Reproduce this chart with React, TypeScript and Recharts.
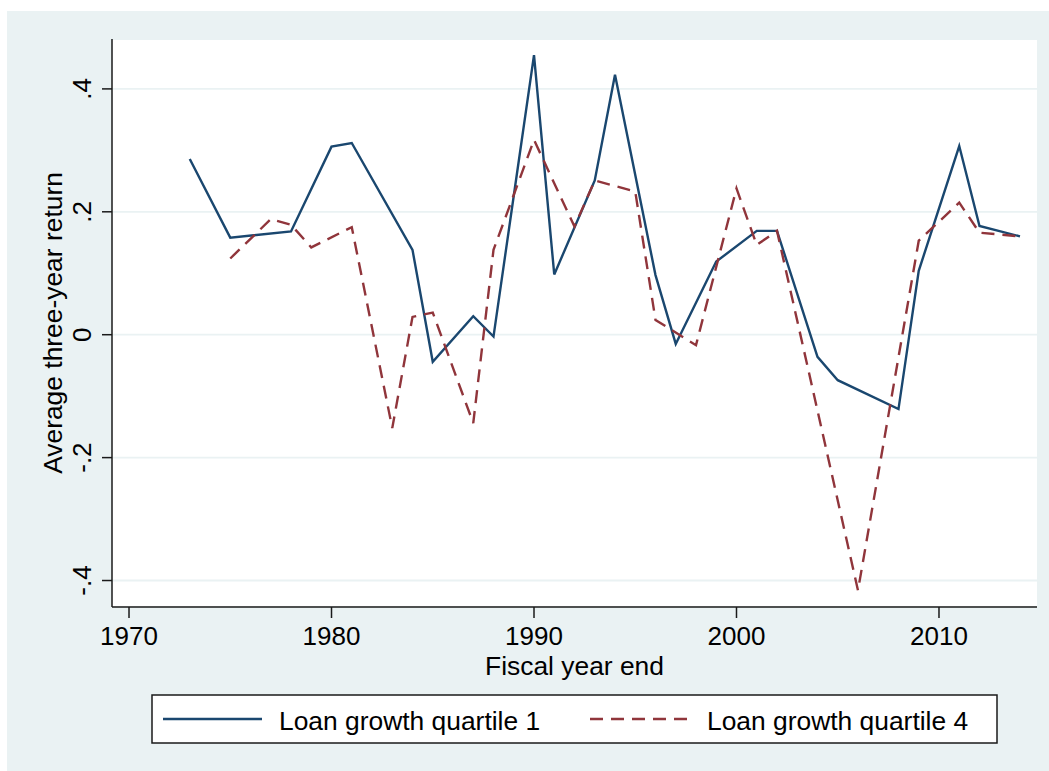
import React from 'react';
import { LineChart, Line, XAxis, YAxis, CartesianGrid } from 'recharts';

// fiscal years with at least one observation
const years = [
  1973, 1975, 1977, 1978, 1979, 1980, 1981, 1983, 1984, 1985, 1987, 1988, 1990,
  1991, 1992, 1993, 1994, 1995, 1996, 1997, 1998, 1999, 2000, 2001, 2002, 2004,
  2005, 2006, 2008, 2009, 2011, 2012, 2014,
];

// average three-year return, lowest loan growth quartile
const quartile1 = [
  0.286, 0.158, null, 0.168, null, 0.306, 0.312, null, 0.138, -0.044, 0.03, -0.003, 0.455,
  0.098, null, 0.251, 0.423, null, 0.097, -0.015, null, 0.119, null, 0.169, 0.169, -0.036,
  -0.074, null, -0.121, 0.104, 0.307, 0.177, 0.16,
];

// average three-year return, highest loan growth quartile
const quartile4 = [
  null, 0.124, 0.188, 0.179, 0.142, null, 0.175, -0.152, 0.029, 0.036, -0.144, 0.138, 0.317,
  null, 0.176, 0.251, null, 0.233, 0.024, null, -0.017, null, 0.238, 0.146, 0.169, null,
  null, -0.416, null, 0.153, 0.215, 0.166, 0.16,
];

const xTicks = [1970, 1980, 1990, 2000, 2010];
const yTicks = [-0.4, -0.2, 0, 0.2, 0.4];

const seriesNames = ['Loan growth quartile 1', 'Loan growth quartile 4'];

const data = years.map((year, i) => ({ year, q1: quartile1[i], q4: quartile4[i] }));

const FONT = '"Liberation Sans", Arial, Helvetica, sans-serif';
const NAVY = '#1A476F';
const MAROON = '#90353B';
const BG = '#EAF2F3';
const INK = '#1a1a1a';
const DASH = '13 8';
const LINE_W = 2.4;

const fmtY = (v: number) => {
  if (v === 0) return '0';
  const s = Math.abs(v).toFixed(1).replace(/^0/, '');
  return v < 0 ? '-' + s : s;
};

function YTick(props: any) {
  const { y, payload } = props;
  return (
    <text
      x={91}
      y={y}
      transform={`rotate(-90, 91, ${y})`}
      textAnchor="middle"
      fontFamily={FONT}
      fontSize={26}
      fill="#000"
    >
      {fmtY(payload.value)}
    </text>
  );
}

function XTick(props: any) {
  const { x, payload } = props;
  return (
    <text x={x} y={645} textAnchor="middle" fontFamily={FONT} fontSize={26} fill="#000">
      {payload.value}
    </text>
  );
}

function LegendBox() {
  return (
    <svg
      width={847}
      height={50}
      style={{ position: 'absolute', left: 151, top: 694 }}
    >
      <rect x={1} y={1} width={845} height={48} fill="#fff" stroke={INK} strokeWidth={1.5} />
      <line x1={12} y1={25} x2={111} y2={25} stroke={NAVY} strokeWidth={LINE_W} />
      <text x={128} y={36} fontFamily={FONT} fontSize={26.4} fill="#000">
        {seriesNames[0]}
      </text>
      <line x1={439} y1={25} x2={539} y2={25} stroke={MAROON} strokeWidth={LINE_W} strokeDasharray={DASH} />
      <text x={556} y={36} fontFamily={FONT} fontSize={26.4} fill="#000">
        {seriesNames[1]}
      </text>
    </svg>
  );
}

export default function App() {
  return (
    <div style={{ position: 'absolute', left: 0, top: 0, width: 1049, height: 771, background: '#fff' }}>
      <div style={{ position: 'absolute', left: 7, top: 11, width: 1042, height: 760, background: BG }} />
      <div style={{ position: 'absolute', left: 0, top: 0 }}>
        <LineChart
          width={1049}
          height={771}
          data={data}
          margin={{ top: 39, right: 12, left: 0, bottom: 84 }}
        >
          <CartesianGrid vertical={false} stroke={BG} strokeWidth={1.8} fill="#fff" />
          <XAxis
            dataKey="year"
            type="number"
            domain={[1969.16, 2014.84]}
            ticks={xTicks}
            height={80}
            tickSize={11}
            axisLine={{ stroke: INK, strokeWidth: 1.5 }}
            tickLine={{ stroke: INK, strokeWidth: 1.5 }}
            tick={<XTick />}
            interval={0}
            label={{
              value: 'Fiscal year end',
              position: 'insideBottom',
              offset: 12,
              style: { fontFamily: FONT, fontSize: 26.4, fill: '#000' },
            }}
          />
          <YAxis
            type="number"
            domain={[-0.4431, 0.4812]}
            ticks={yTicks}
            width={112}
            tickSize={10}
            axisLine={{ stroke: INK, strokeWidth: 1.5 }}
            tickLine={{ stroke: INK, strokeWidth: 1.5 }}
            tick={<YTick />}
            interval={0}
            label={({ viewBox }: any) => (
              <text
                x={62}
                y={viewBox.y + viewBox.height / 2}
                transform={`rotate(-90, 62, ${viewBox.y + viewBox.height / 2})`}
                textAnchor="middle"
                fontFamily={FONT}
                fontSize={26.4}
                fill="#000"
              >
                Average three-year return
              </text>
            )}
          />
          <Line
            dataKey="q1"
            name={seriesNames[0]}
            type="linear"
            stroke={NAVY}
            strokeWidth={LINE_W}
            dot={false}
            connectNulls
            isAnimationActive={false}
          />
          <Line
            dataKey="q4"
            name={seriesNames[1]}
            type="linear"
            stroke={MAROON}
            strokeWidth={LINE_W}
            strokeDasharray={DASH}
            dot={false}
            connectNulls
            isAnimationActive={false}
          />
        </LineChart>
      </div>
      <LegendBox />
    </div>
  );
}
